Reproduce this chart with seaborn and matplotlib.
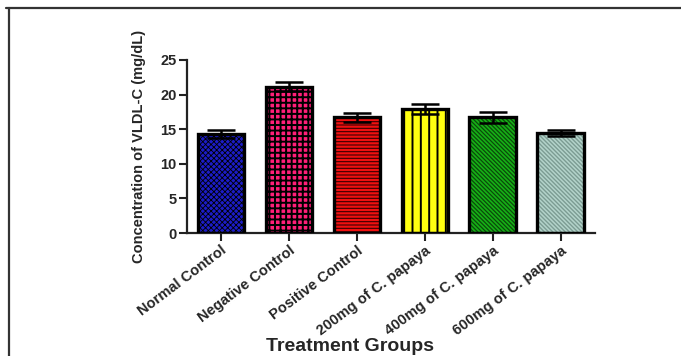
import matplotlib
matplotlib.use("Agg")
import matplotlib.pyplot as plt
from matplotlib.lines import Line2D
import seaborn as sns
import pandas as pd

# Treatment groups and VLDL-C concentration (mean ± SEM, mg/dL)
groups = ["Normal Control", "Negative Control", "Positive Control",
          "200mg of C. papaya", "400mg of C. papaya", "600mg of C. papaya"]
vldl_mean = [14.3, 21.1, 16.7, 17.9, 16.7, 14.5]
vldl_sem = [0.6, 0.65, 0.6, 0.75, 0.75, 0.45]
y_ticks = [0, 5, 10, 15, 20, 25]

face_colors = ["#1c1cc8", "#ff1f78", "#f01010", "#ffff10", "#16b016", "#b3d3ca"]
hatch_colors = ["#000000", "#000000", "#3a0000", "#000000", "#0a4a0a", "#7c9c93"]
hatches = ["xxxxxx", "+++", "-----", "||", r"\\\\\\\\", r"\\\\\\\\"]
hatch_widths = [0.6, 1.4, 0.8, 1.4, 0.9, 1.0]

df = pd.DataFrame({"group": groups, "vldl": vldl_mean})

sns.set_style("white")
plt.rcParams["font.family"] = ["Liberation Sans", "DejaVu Sans"]
plt.rcParams["font.weight"] = "bold"

fig = plt.figure(figsize=(6.81, 3.56), dpi=100)
ax = fig.add_axes([0.2746, 0.3455, 0.599, 0.486])

# Patterned fill layer
sns.barplot(data=df, x="group", y="vldl", hue="group", palette=face_colors,
            legend=False, errorbar=None, width=0.69, linewidth=0,
            saturation=1, ax=ax, zorder=2)
for p, hc, h, hw in zip(ax.patches, hatch_colors, hatches, hatch_widths):
    p.set_edgecolor(hc)
    p.set_hatch(h)
    if hasattr(p, "set_hatch_linewidth"):
        p.set_hatch_linewidth(hw)
    p.set_linewidth(0)

# Heavy black outlines
sns.barplot(data=df, x="group", y="vldl", color="black", fill=False,
            errorbar=None, width=0.69, linewidth=2.4, ax=ax, zorder=3)

ax.errorbar(range(len(groups)), vldl_mean, yerr=vldl_sem, fmt="none",
            ecolor="black", elinewidth=1.8, capsize=10, capthick=1.8,
            zorder=4)

ax.set_xlim(-0.5, 5.5)
ax.set_ylim(0, 25)
ax.set_yticks(y_ticks)
ax.set_yticklabels([str(t) for t in y_ticks], fontsize=10.5, fontweight="bold")
ax.set_xticks(range(len(groups)))
ax.set_xticklabels(groups, rotation=37, ha="right", rotation_mode="anchor",
                   fontsize=10.5, fontweight="bold")
ax.set_xlabel("")
ax.set_ylabel("Concentration of VLDL-C (mg/dL)", fontsize=10.5,
              fontweight="bold", labelpad=10)
sns.despine(ax=ax)
for s in ("left", "bottom"):
    ax.spines[s].set_linewidth(1.6)
    ax.spines[s].set_color("#222222")
ax.tick_params(axis="both", direction="out", length=5.5, width=1.5,
               color="#222222", pad=2)
ax.tick_params(axis="y", left=True)
ax.tick_params(axis="x", bottom=True)

fig.text(350 / 681, 5 / 356, "Treatment Groups", ha="center", va="baseline",
         fontsize=14, fontweight="bold")

# Page frame lines
fig.add_artist(Line2D([6 / 681, 1.0], [1 - 8 / 356, 1 - 8 / 356],
                      color="#333333", linewidth=1.6))
fig.add_artist(Line2D([8.5 / 681, 8.5 / 681], [0.0, 1 - 8 / 356],
                      color="#333333", linewidth=1.6))

fig.savefig("out.png", dpi=100)
